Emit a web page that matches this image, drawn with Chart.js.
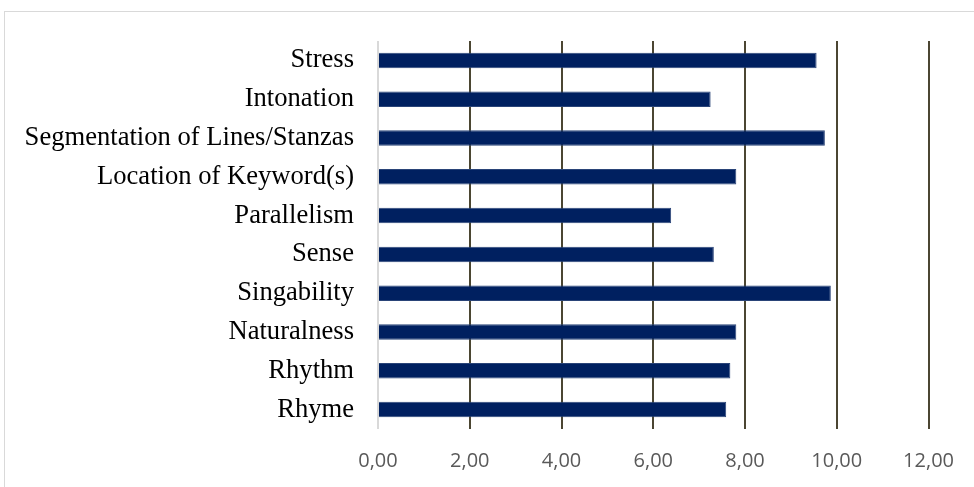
<!DOCTYPE html>
<html>
<head>
<meta charset="utf-8">
<script src="https://cdn.jsdelivr.net/npm/chart.js@4"></script>
<style>
html,body{margin:0;padding:0;background:#fff;overflow:hidden;}
#wrap{position:relative;width:974px;height:487px;}
#frame{position:absolute;left:4px;top:11px;width:1000px;height:500px;border:1px solid #d9d9d9;box-sizing:border-box;}
canvas{position:absolute;left:0;top:0;}
</style>
</head>
<body>
<div id="wrap"><div id="frame"></div><canvas id="c" width="974" height="487"></canvas></div>
<script>
const categories = ["Stress","Intonation","Segmentation of Lines/Stanzas","Location of Keyword(s)","Parallelism","Sense","Singability","Naturalness","Rhythm","Rhyme"];
const values = [9.56, 7.25, 9.74, 7.81, 6.39, 7.32, 9.87, 7.81, 7.68, 7.59];
const xTicks = [0, 2, 4, 6, 8, 10, 12];

new Chart(document.getElementById('c'), {
  type: 'bar',
  data: {
    labels: categories,
    datasets: [{
      data: values,
      backgroundColor: '#002060',
      borderColor: '#2a4478',
      borderWidth: 1,
      barPercentage: 0.4,
      categoryPercentage: 1.0
    }]
  },
  options: {
    indexAxis: 'y',
    responsive: false,
    animation: false,
    layout: { padding: { left: 0, right: 45, top: 41, bottom: 0 } },
    plugins: { legend: { display: false }, tooltip: { enabled: false } },
    scales: {
      x: {
        min: 0, max: 12,
        afterBuildTicks: (s) => { s.ticks = xTicks.map(v => ({ value: v })); },
        afterFit: (s) => { s.height = 58; },
        border: { display: false },
        grid: {
          drawTicks: false,
          lineWidth: 2,
          color: (ctx) => (ctx.tick && ctx.tick.value === 0) ? '#d9d9d9' : '#4b4632'
        },
        ticks: {
          padding: 20,
          color: '#595959',
          font: { family: '"Open Sans", sans-serif', size: 20 },
          callback: (v) => Number(v).toFixed(2).replace('.', ',')
        }
      },
      y: {
        afterFit: (s) => { s.width = 378; },
        border: { display: false },
        grid: { display: false, drawTicks: false },
        ticks: {
          padding: 24,
          color: '#000000',
          font: { family: '"Liberation Serif", "Times New Roman", serif', size: 26.6 }
        }
      }
    }
  }
});
</script>
</body>
</html>
